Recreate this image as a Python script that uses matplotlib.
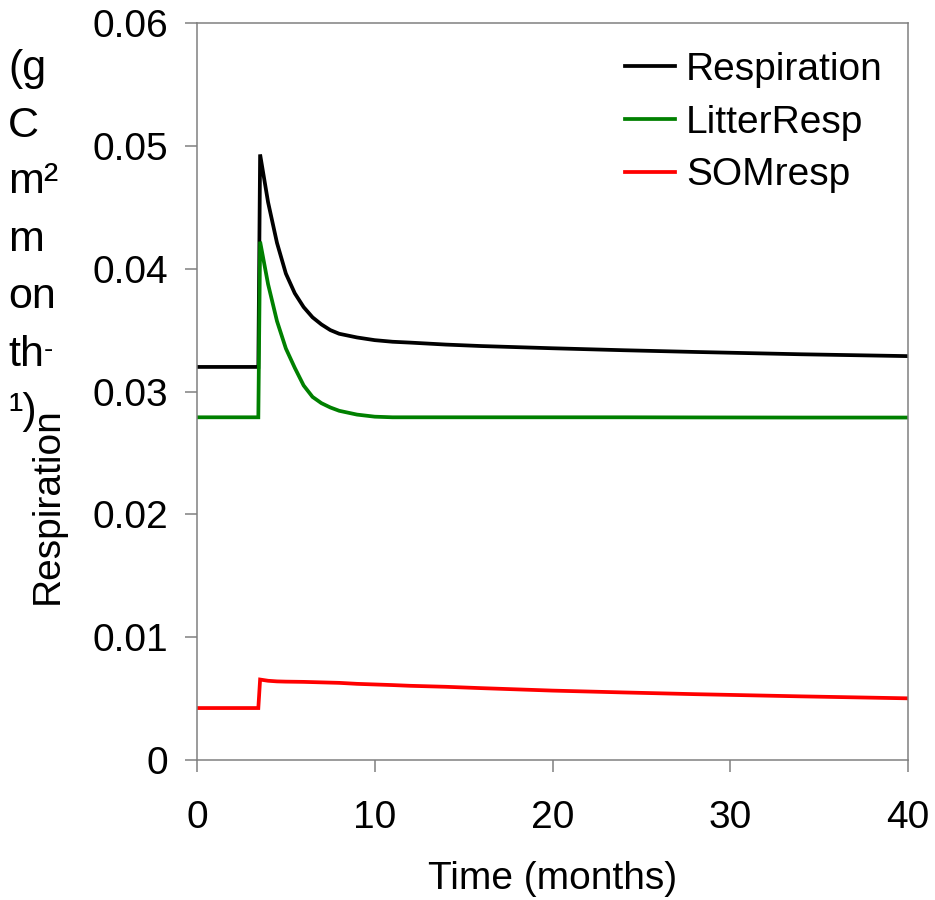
import matplotlib
matplotlib.use("Agg")
import matplotlib.pyplot as plt

plt.rcParams['font.family'] = ['Liberation Sans', 'DejaVu Sans']

# ---- data ----
time_months = [0, 3.45, 3.55, 4, 4.5, 5, 5.5, 6, 6.5, 7, 7.5, 8, 9, 10, 11, 12,
               14, 16, 20, 24, 28, 34, 40]
respiration = [0.0320, 0.0320, 0.0493, 0.0454, 0.0421, 0.0396, 0.0380, 0.03687,
               0.03604, 0.03546, 0.03500, 0.03470, 0.03440, 0.03418, 0.03405,
               0.03398, 0.03382, 0.03370, 0.03352, 0.03336, 0.03322, 0.03303,
               0.03288]
litter_resp = [0.0279, 0.0279, 0.0422, 0.03873, 0.03573, 0.03350, 0.03193,
               0.03049, 0.02956, 0.02905, 0.02870, 0.02843, 0.02812, 0.02795,
               0.02790, 0.02790, 0.02790, 0.02790, 0.02790, 0.02790, 0.02789,
               0.02788, 0.02788]
som_resp = [0.00423, 0.00423, 0.00655, 0.00645, 0.00640, 0.00638, 0.00637,
            0.00636, 0.00634, 0.00632, 0.00630, 0.00628, 0.00620, 0.00615,
            0.00610, 0.00604, 0.00596, 0.00585, 0.00565, 0.00550, 0.00536,
            0.00518, 0.00502]
series_names = ["Respiration", "LitterResp", "SOMresp"]
series_colors = ["#000000", "#008000", "#ff0000"]
x_ticks = [0, 10, 20, 30, 40]
y_ticks = [0, 0.01, 0.02, 0.03, 0.04, 0.05, 0.06]
y_tick_labels = ["0", "0.01", "0.02", "0.03", "0.04", "0.05", "0.06"]
unit_lines = ["(g", "C", "m²", "m", "on", "th", "¹)"]

W, H = 935, 900
fig = plt.figure(figsize=(W / 100, H / 100), dpi=100)
ax = fig.add_axes([197 / W, 1 - 760 / H, (908 - 197) / W, (760 - 23) / H])

for vals, name, col in zip([respiration, litter_resp, som_resp], series_names, series_colors):
    ax.plot(time_months, vals, color=col, lw=2.7, label=name, solid_joinstyle='miter')

ax.set_xlim(0, 40)
ax.set_ylim(0, 0.06)
ax.set_xticks(x_ticks)
ax.set_xticklabels([str(v) for v in x_ticks])
ax.set_yticks(y_ticks)
ax.set_yticklabels(y_tick_labels)

FS = 28
spine_col = "#808080"
for s in ax.spines.values():
    s.set_color(spine_col)
    s.set_linewidth(1.1)
ax.tick_params(axis='both', direction='out', length=8.6, width=1.1, color=spine_col,
               labelsize=FS, labelcolor='black')
ax.tick_params(axis='y', pad=12)
ax.tick_params(axis='x', pad=20)

ax.set_xlabel("Time (months)", fontsize=FS, labelpad=18)

# y label as in reference: rotated word plus stacked unit fragments
fig.text(47.5 / W, 1 - 506 / H, "Respiration", rotation=90, ha='center', va='center',
         fontsize=FS)
baselines = [80, 137, 193, 251, 308, 366, 423]
unit_texts = []
for txt, yb in zip(unit_lines, baselines):
    unit_texts.append(fig.text(8 / W, 1 - yb / H, txt, ha='left', va='baseline',
                               fontsize=31))
# superscript minus after "th"
ax.annotate("-", xy=(1.0, 0.95), xycoords=unit_texts[5], ha='left', va='top',
            fontsize=20, annotation_clip=False)

leg = ax.legend(loc='upper left', bbox_to_anchor=(625 / W, 1 - 52 / H),
                bbox_transform=fig.transFigure, frameon=False, fontsize=FS,
                handlelength=1.29, handletextpad=0.28, labelspacing=0.43,
                borderpad=0, borderaxespad=0)

fig.savefig("out.png", dpi=100)
